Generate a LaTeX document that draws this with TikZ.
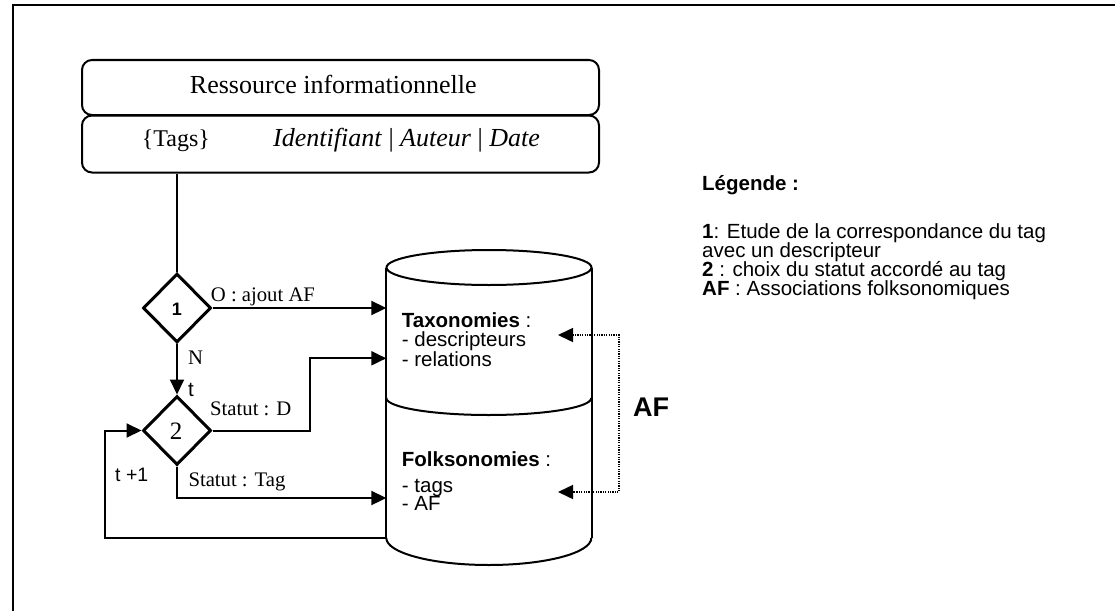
\documentclass[tikz,border=0pt]{standalone}
\usepackage{fontspec}
\setmainfont{Liberation Serif}
\setsansfont{Liberation Sans}
\usetikzlibrary{arrows.meta,shapes.geometric}
\begin{document}
\begin{tikzpicture}[x=1pt,y=-1pt,
  serifbig/.style={font=\fontsize{26}{30}\selectfont},
  seriflab/.style={font=\fontsize{20.7}{24}\selectfont},
  sanslab/.style={font=\sffamily\fontsize{20.5}{19.3}\selectfont},
  txt/.style={inner sep=0pt, anchor=base west},
  rbox/.style={draw, line width=2pt, rounded corners=10pt, inner sep=0pt},
  dia/.style={draw, diamond, line width=3pt, inner sep=0pt, minimum width=68pt, minimum height=69pt},
  line/.style={line width=2pt},
  arr/.style={line width=2pt, -{Triangle[length=15pt,width=14pt]}},
  dotarr/.style={line width=1.5pt, dash pattern=on 1.2pt off 1.2pt, {Triangle[length=15pt,width=14pt]}-{Triangle[length=15pt,width=14pt]}}
]
\useasboundingbox (0,0) rectangle (1115,610);
% outer frame
\draw[line width=2pt] (13,640) -- (13,5) -- (1140,5);

% top boxes
\node[rbox, minimum width=517pt, minimum height=55pt] (box1) at (340.5,87.5) {};
\node[rbox, minimum width=517pt, minimum height=57pt] (box2) at (340.5,144) {};
\node[serifbig, inner sep=0pt, anchor=base] (res) at (333.3,93.3) {Ressource informationnelle};
\node[serifbig, txt, font=\fontsize{24}{28}\selectfont] (tags) at (141.7,146.7) {\{Tags\}};
\node[serifbig, txt] (ident) at (273,146.7) {\textit{Identifiant} | \textit{Auteur} | \textit{Date}};

% diamonds
\node[dia] (d1) at (177,308) {};
\node[font=\sffamily\bfseries\fontsize{18}{20}\selectfont] (d1t) at (177,309) {1};
\node[dia] (d2) at (177,430.5) {};
\node[font=\fontsize{25}{28}\selectfont] (d2t) at (176,431) {2};

% cylinder
\node[inner sep=0pt, minimum width=205pt, minimum height=315pt] (cyl) at (489,407.5) {};
\draw[line] (489,267.5) ellipse [x radius=102.5, y radius=17.5];
\draw[line] (cyl.west |- 0,267.5) -- (cyl.west |- 0,538);
\draw[line] (cyl.east |- 0,267.5) -- (cyl.east |- 0,538);
\draw[line] (cyl.west |- 0,398) arc[start angle=180, end angle=360, x radius=102.5pt, y radius=17pt];
\draw[line] (cyl.west |- 0,538) arc[start angle=180, end angle=360, x radius=102.5pt, y radius=27pt];

% cylinder texts
\node[sanslab, txt] (tax) at (401.7,327.3) {\textbf{Taxonomies} :};
\node[sanslab, txt] (tax1) at (401.7,346.8) {- descripteurs};
\node[sanslab, txt] (tax2) at (401.7,366) {- relations};
\node[sanslab, txt] (fol) at (401.7,466.7) {\textbf{Folksonomies} :};
\node[sanslab, txt] (fol1) at (401.7,492) {- tags};
\node[sanslab, txt] (fol2) at (401.7,510.5) {- AF};

% connectors
\draw[line] (box2.south -| d1.north) -- (d1.north);
\draw[arr] (d1.east) -- (d1.east -| cyl.west);
\draw[arr] (d1.south) -- (d2.north);
\coordinate (sd) at (310,358.3);
\draw[arr] (d2.east) -| (sd) -- (sd -| cyl.west);
\coordinate (st) at (177,498);
\draw[arr] (d2.south) -- (st) -- (st -| cyl.west);
\coordinate (lp) at (cyl.west |- 0,537.5);
\coordinate (lc) at (105,537.5);
\draw[arr] (lp) -- (lc) |- (d2.west);

% dotted AF connector
\coordinate (ta) at (558,335);
\coordinate (fa) at (558,492);
\draw[dotarr] (ta) -- (619,335) -- (619,492) -- (fa);
\node[txt, font=\sffamily\bfseries\fontsize{27}{30}\selectfont] (afbig) at (633,416.7) {AF};

% labels
\node[seriflab, txt] (lo) at (210.7,301.7) {O : ajout AF};
\node[seriflab, txt] (ln) at (188,364) {N};
\node[sanslab, txt] (lt) at (188,396.7) {t};
\node[seriflab, txt] (lsd) at (210,415) {Statut : D};
\node[seriflab, txt] (lst) at (188.3,486) {Statut : Tag};
\node[sanslab, txt, font=\sffamily\fontsize{19.5}{20}\selectfont] (lt1) at (115,481.7) {t +1};

% legend
\node[sanslab, txt] (leg0) at (702,190.7) {\textbf{Légende :}};
\node[sanslab, txt] (leg1) at (702,238) {\textbf{1}: Etude de la correspondance du tag};
\node[sanslab, txt] (leg2) at (702,257.3) {avec un descripteur};
\node[sanslab, txt] (leg3) at (702,276.6) {\textbf{2} : choix du statut accordé au tag};
\node[sanslab, txt] (leg4) at (702,295.9) {\textbf{AF} : Associations folksonomiques};
\end{tikzpicture}
\end{document}
